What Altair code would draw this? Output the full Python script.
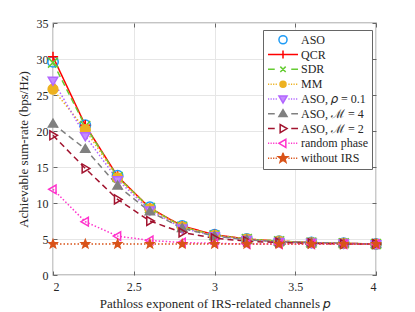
import math
import altair as alt
import pandas as pd

# ---------------- data ----------------
p_values = [2.0, 2.2, 2.4, 2.6, 2.8, 3.0, 3.2, 3.4, 3.6, 3.8, 4.0]
series_names = ["ASO", "QCR", "SDR", "MM", "ASO, 𝜌 = 0.1", "ASO, ℳ = 4",
                "ASO, ℳ = 2", "random phase", "without IRS"]
aso       = [29.6, 20.8, 13.8, 9.4, 6.8, 5.6, 5.0, 4.7, 4.5, 4.4, 4.3]
qcr       = [30.3, 20.8, 13.7, 9.3, 6.8, 5.6, 5.0, 4.7, 4.5, 4.4, 4.3]
sdr       = [29.5, 20.7, 13.6, 9.3, 6.7, 5.5, 5.0, 4.7, 4.5, 4.4, 4.3]
mm        = [25.8, 20.2, 13.5, 9.2, 6.7, 5.5, 5.0, 4.7, 4.5, 4.4, 4.3]
aso_rho   = [27.0, 19.3, 13.2, 9.0, 6.5, 5.4, 4.9, 4.6, 4.5, 4.4, 4.3]
aso_m4    = [21.0, 17.5, 12.4, 8.8, 6.5, 5.4, 4.9, 4.6, 4.5, 4.4, 4.3]
aso_m2    = [19.4, 14.8, 10.5, 7.5, 5.9, 5.1, 4.7, 4.5, 4.4, 4.3, 4.3]
random_ph = [11.9, 7.4, 5.4, 4.8, 4.5, 4.4, 4.3, 4.3, 4.3, 4.3, 4.3]
no_irs    = [4.3, 4.3, 4.3, 4.3, 4.3, 4.3, 4.3, 4.3, 4.3, 4.3, 4.3]
all_values = [aso, qcr, sdr, mm, aso_rho, aso_m4, aso_m2, random_ph, no_irs]
x_ticks = [2, 2.5, 3, 3.5, 4]
y_ticks = [0, 5, 10, 15, 20, 25, 30, 35]

rows = []
for name, vals in zip(series_names, all_values):
    for p, v in zip(p_values, vals):
        rows.append({"p": p, "rate": v, "series": name})
df = pd.DataFrame(rows)

# ---------------- styles ----------------
colors = ["#1e9bf5", "#ff0000", "#66cc33", "#edb120", "#b266ff",
          "#808080", "#a2142f", "#ff33cc", "#d95319"]
fills = ["transparent", "transparent", "#66cc33", "#edb120", "#c58cff",
         "#808080", "transparent", "transparent", "#d95319"]
line_kind = ["none", "solid", "dash", "dot", "dot", "dash", "dash", "dot", "dot"]
dash_map = {"none": [1, 0], "solid": [1, 0], "dash": [6, 4], "dot": [1.5, 2]}
sizes = [110, 70, 36, 40, 70, 70, 70, 70, 110]

W, H = 323, 252
FONT = "Liberation Serif"
TXT = "#262626"


def circle(r):
    return f"M{r},0A{r},{r} 0 1,1 {-r},0A{r},{r} 0 1,1 {r},0Z"


def plus(r):
    return f"M{-r},0H{r}M0,{-r}V{r}"


def xmark(r):
    return f"M{-r},{-r}L{r},{r}M{-r},{r}L{r},{-r}"


def tri(r, d):
    if d == "down":
        return f"M{-r},{-r*0.7}L{r},{-r*0.7}L0,{r}Z"
    if d == "up":
        return f"M{-r},{r*0.7}L{r},{r*0.7}L0,{-r}Z"
    if d == "right":
        return f"M{-r*0.7},{-r}L{-r*0.7},{r}L{r},0Z"
    return f"M{r*0.7},{-r}L{r*0.7},{r}L{-r},0Z"


def star(r):
    pts = []
    for k in range(10):
        rr = r if k % 2 == 0 else r * 0.42
        a = -math.pi / 2 + k * math.pi / 5
        pts.append(f"{rr*math.cos(a):.3f},{rr*math.sin(a):.3f}")
    return "M" + "L".join(pts) + "Z"


plot_shapes = [circle(1), plus(1), xmark(1), circle(1), tri(1, "down"),
               tri(1, "up"), tri(1, "right"), tri(1, "left"), star(1)]


def legend_line(kind, gap):
    if kind == "none":
        return ""
    if kind == "solid":
        return "M-1,0H1"
    if kind == "dash":
        return "M-1,0H-0.55M0.55,0H1"
    segs = []
    x = -1.0
    while x < 1.0:
        if abs(x) > gap and abs(x + 0.08) > gap:
            segs.append(f"M{x:.2f},0H{x+0.08:.2f}")
        x += 0.17
    return "".join(segs)


mr = 0.27
legend_markers = [circle(mr), plus(mr), xmark(0.18), circle(0.2), tri(mr, "down"),
                  tri(mr, "up"), tri(mr, "right"), tri(mr, "left"), star(0.33)]
legend_shapes = [legend_line(k, 0.3) + m for k, m in zip(line_kind, legend_markers)]

x_scale = alt.Scale(domain=[2, 4], nice=False)
y_scale = alt.Scale(domain=[0, 35], nice=False)

x_main = alt.X("p:Q", scale=x_scale, axis=alt.Axis(
    values=x_ticks, format="~g", title="Pathloss exponent of IRS-related channels 𝑝",
    grid=True, ticks=False, domain=False, labelPadding=6, titlePadding=5))
y_main = alt.Y("rate:Q", scale=y_scale, axis=alt.Axis(
    values=y_ticks, format="~g", title="Achievable sum-rate (bps/Hz)",
    grid=True, ticks=False, domain=False, labelPadding=5, titlePadding=6))

tick_ax = dict(labels=False, grid=False, domain=False, title=None,
               ticks=True, tickSize=4, tickColor="#666666", tickWidth=1)

lines = alt.Chart(df).transform_filter(
    alt.datum.series != "ASO"
).mark_line(strokeWidth=1.5).encode(
    x=x_main,
    y=y_main,
    stroke=alt.Stroke("series:N", scale=alt.Scale(domain=series_names, range=colors), legend=None),
    strokeDash=alt.StrokeDash("series:N", scale=alt.Scale(domain=series_names,
                              range=[dash_map[k] for k in line_kind]), legend=None),
    detail="series:N",
    order="p:Q",
)

points = alt.Chart(df).mark_point(strokeWidth=1.5, opacity=1).encode(
    x=alt.X("p:Q", scale=x_scale, axis=alt.Axis(values=x_ticks, orient="top", offset=-H, **tick_ax)),
    y=alt.Y("rate:Q", scale=y_scale, axis=alt.Axis(values=y_ticks, orient="right", offset=-W, **tick_ax)),
    stroke=alt.Stroke("series:N", scale=alt.Scale(domain=series_names, range=colors), legend=None),
    fill=alt.Fill("series:N", scale=alt.Scale(domain=series_names, range=fills), legend=None),
    shape=alt.Shape("series:N", scale=alt.Scale(domain=series_names, range=plot_shapes), legend=None),
    size=alt.Size("series:N", scale=alt.Scale(domain=series_names, range=sizes), legend=None),
)

leg = alt.Legend(
    title=None, orient="none", legendX=210, legendY=7,
    labelFont=FONT, labelFontSize=12, labelColor=TXT, labelOffset=2,
    symbolSize=900, symbolStrokeWidth=1.5, symbolOffset=0,
    clipHeight=11.5, rowPadding=1.8, padding=4,
    strokeColor="#666666", fillColor="white", cornerRadius=0,
)

legend_layer = alt.Chart(df).transform_filter("datum.p > 100").mark_point(
    strokeWidth=1.5, opacity=1, size=900).encode(
    x=alt.X("p:Q", scale=x_scale, axis=alt.Axis(values=x_ticks, orient="bottom", offset=-H, **tick_ax)),
    y=alt.Y("rate:Q", scale=y_scale, axis=alt.Axis(values=y_ticks, orient="left", offset=-W, **tick_ax)),
    stroke=alt.Stroke("series:N", scale=alt.Scale(domain=series_names, range=colors), legend=leg),
    fill=alt.Fill("series:N", scale=alt.Scale(domain=series_names, range=fills), legend=leg),
    shape=alt.Shape("series:N", scale=alt.Scale(domain=series_names, range=legend_shapes), legend=leg),
)

chart = alt.layer(lines, points, legend_layer).resolve_scale(
    stroke="independent", fill="independent", shape="independent"
).resolve_axis(x="independent", y="independent").properties(
    width=W, height=H,
    background="white",
    autosize=alt.AutoSizeParams(type="none"),
    padding={"left": 45, "top": 15, "right": 30, "bottom": 40},
).configure_view(
    stroke="#8a8a8a", strokeWidth=1.3
).configure_axis(
    labelFont=FONT, labelFontSize=12, labelColor=TXT,
    titleFont=FONT, titleFontSize=13, titleFontWeight="normal", titleColor=TXT,
    gridColor="#e6e6e6", gridWidth=1,
)

chart.save("out.html", embed_options={"renderer": "svg", "actions": False})
